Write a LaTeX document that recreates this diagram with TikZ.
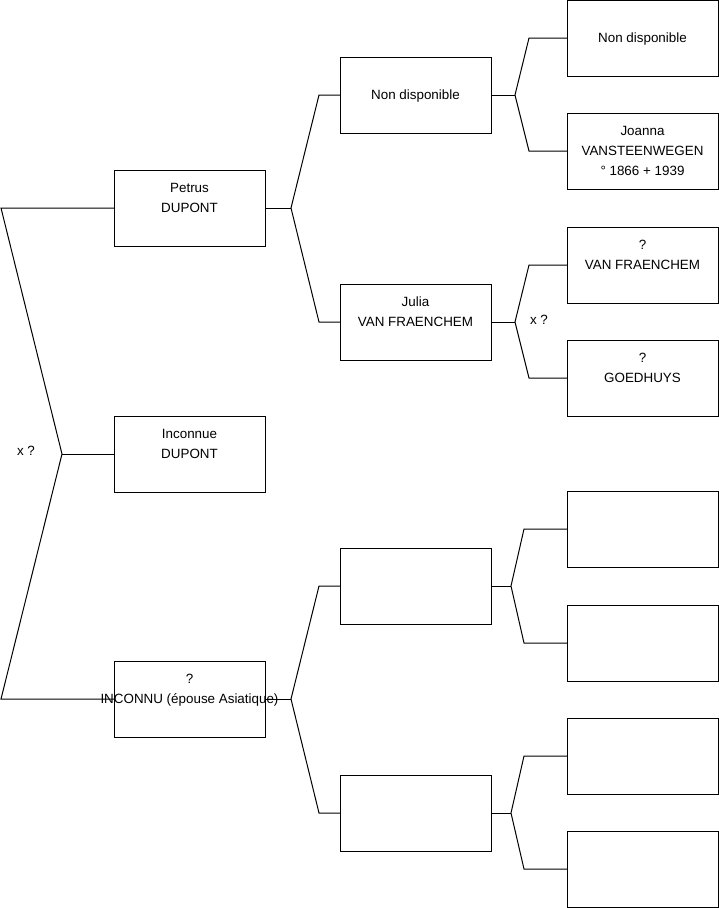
\documentclass[tikz,border=0pt]{standalone}
\usepackage{fontspec}
\setmainfont{Liberation Sans}
\begin{document}
\begin{tikzpicture}[x=1pt,y=-1pt,
  box/.style={draw=black,line width=1pt,minimum width=151pt,minimum height=76pt,inner sep=0pt,outer sep=0pt,align=center,font=\fontsize{13.4}{20}\selectfont},
  con/.style={draw=black,line width=1pt},
  lbl/.style={inner sep=0pt,font=\fontsize{13.4}{20}\selectfont}]
\useasboundingbox (0,0) rectangle (719,908);
% level 1
\node[box] (p) at (189.5,208) {\strut Petrus\\\strut DUPONT\\\strut};
\node[box] (i) at (189.5,454) {\strut Inconnue\\\strut DUPONT\\\strut};
\node[box] (q) at (189.5,699) {\strut ?\\\strut\makebox[0pt]{INCONNU (épouse Asiatique)}\\\strut};
% level 2
\node[box] (nd) at (415.5,95) {\strut Non disponible};
\node[box] (j) at (415.5,322) {\strut Julia\\\strut VAN FRAENCHEM\\\strut};
\node[box] (e1) at (415.5,586) {};
\node[box] (e2) at (415.5,813) {};
% level 3
\node[box] (g1) at (642.5,38) {\strut Non disponible};
\node[box] (g2) at (642.5,151) {\strut Joanna\\\strut VANSTEENWEGEN\\\strut ° 1866 + 1939};
\node[box] (g3) at (642.5,265) {\strut ?\\\strut VAN FRAENCHEM\\\strut};
\node[box] (g4) at (642.5,378) {\strut ?\\\strut GOEDHUYS\\\strut};
\node[box] (g5) at (642.5,529) {};
\node[box] (g6) at (642.5,643) {};
\node[box] (g7) at (642.5,756) {};
\node[box] (g8) at (642.5,869) {};
% labels
\node[lbl] (x1) at (26,451) {x ?};
\node[lbl] (x2) at (539,320) {x ?};
% left fork
\coordinate (l0) at (1,208);
\coordinate (l1) at (62,454);
\coordinate (l2) at (1,699);
\draw[con] (p.west) -- (l0) -- (l1) -- (l2) -- (q.west);
\draw[con] (l1) -- (i.west);
% Petrus fork
\coordinate (pf) at (291,208);
\coordinate (pa) at (319,95);
\coordinate (pb) at (319,322);
\draw[con] (p.east) -- (pf);
\draw[con] (nd.west) -- (pa) -- (pf) -- (pb) -- (j.west);
% Non disponible fork
\coordinate (ndf) at (515,95);
\coordinate (nda) at (529,38);
\coordinate (ndb) at (529,151);
\draw[con] (nd.east) -- (ndf);
\draw[con] (g1.west) -- (nda) -- (ndf) -- (ndb) -- (g2.west);
% Julia fork
\coordinate (jf) at (515,322);
\coordinate (ja) at (529,265);
\coordinate (jb) at (529,378);
\draw[con] (j.east) -- (jf);
\draw[con] (g3.west) -- (ja) -- (jf) -- (jb) -- (g4.west);
% INCONNU fork
\coordinate (qf) at (291,699);
\coordinate (qa) at (319,586);
\coordinate (qb) at (319,813);
\draw[con] (q.east) -- (qf);
\draw[con] (e1.west) -- (qa) -- (qf) -- (qb) -- (e2.west);
% empty forks
\coordinate (e1f) at (511,586);
\coordinate (e1a) at (524,529);
\coordinate (e1b) at (524,643);
\draw[con] (e1.east) -- (e1f);
\draw[con] (g5.west) -- (e1a) -- (e1f) -- (e1b) -- (g6.west);
\coordinate (e2f) at (511,813);
\coordinate (e2a) at (524,756);
\coordinate (e2b) at (524,869);
\draw[con] (e2.east) -- (e2f);
\draw[con] (g7.west) -- (e2a) -- (e2f) -- (e2b) -- (g8.west);
\end{tikzpicture}
\end{document}
